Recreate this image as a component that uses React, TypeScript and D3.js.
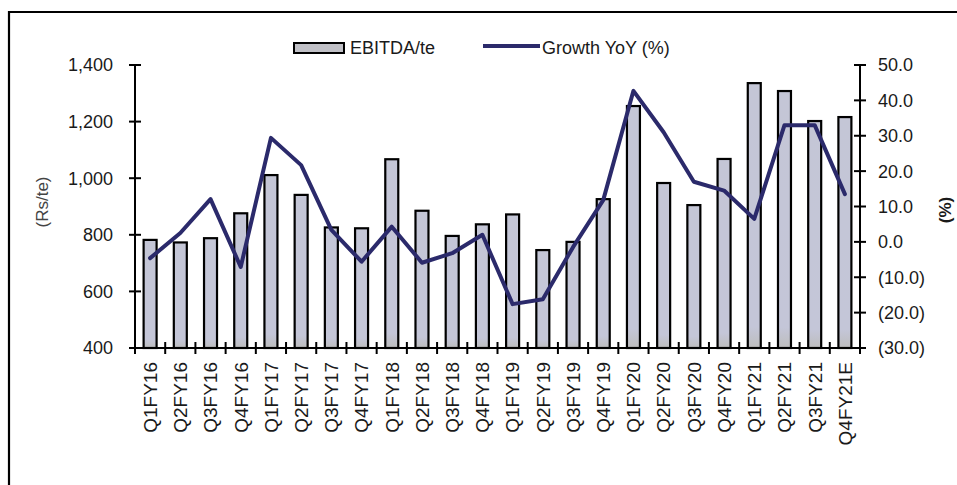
import React from "react";
import * as d3 from "d3";

const categories = [
  "Q1FY16", "Q2FY16", "Q3FY16", "Q4FY16",
  "Q1FY17", "Q2FY17", "Q3FY17", "Q4FY17",
  "Q1FY18", "Q2FY18", "Q3FY18", "Q4FY18",
  "Q1FY19", "Q2FY19", "Q3FY19", "Q4FY19",
  "Q1FY20", "Q2FY20", "Q3FY20", "Q4FY20",
  "Q1FY21", "Q2FY21", "Q3FY21", "Q4FY21E",
];

const ebitdaPerTonne = [
  782, 773, 788, 876,
  1011, 941, 826, 823,
  1067, 885, 796, 837,
  872, 746, 775, 926,
  1255, 983, 905, 1068,
  1336, 1308, 1202, 1216,
];

const growthYoY = [
  -4.6, 2.5, 12.1, -7.1,
  29.4, 21.7, 3.4, -5.6,
  4.3, -5.9, -3.2, 2.0,
  -17.6, -16.2, -1.5, 11.8,
  42.7, 31.0, 17.0, 14.5,
  6.5, 33.0, 33.0, 13.5,
];

const leftTicks = [400, 600, 800, 1000, 1200, 1400];
const rightTicks = [-30, -20, -10, 0, 10, 20, 30, 40, 50];

const W = 957;
const H = 485;
const plotLeft = 135;
const plotRight = 860;
const plotTop = 65;
const plotBottom = 348;
const FONT = "Liberation Sans, Arial, sans-serif";
const TEXT = "#1a1a1a";
const LINE = "#2b2a6b";

const fmtLeft = d3.format(",");
const fmtRight = (v: number) => (v < 0 ? `(${Math.abs(v).toFixed(1)})` : v.toFixed(1));

export default function App() {
  const x = d3.scaleBand<string>().domain(categories).range([plotLeft, plotRight]).padding(0);
  const yL = d3.scaleLinear().domain([400, 1400]).range([plotBottom, plotTop]);
  const yR = d3.scaleLinear().domain([-30, 50]).range([plotBottom, plotTop]);
  const step = x.step();
  const barW = step * 0.43;

  const line = d3
    .line<number>()
    .x((_, i) => (x(categories[i]) as number) + step / 2)
    .y((d) => yR(d));

  return (
    <svg
      width={W}
      height={H}
      style={{ position: "absolute", left: 0, top: 0, background: "#fff" }}
      fontFamily={FONT}
    >
      <defs>
        <linearGradient id="barFill" x1="0" y1="0" x2="0" y2="1">
          <stop offset="0" stopColor="#c4c6d6" />
          <stop offset="0.92" stopColor="#c4c6d8" />
          <stop offset="1" stopColor="#bdbdbd" />
        </linearGradient>
      </defs>
      {/* frame */}
      <path d={`M9,${H} L9,12 L${W},12`} fill="none" stroke="#000" strokeWidth={2.2} />

      {/* bars */}
      {ebitdaPerTonne.map((v, i) => {
        const cx = (x(categories[i]) as number) + step / 2;
        return (
          <rect
            key={categories[i]}
            x={cx - barW / 2}
            y={yL(v)}
            width={barW}
            height={plotBottom - yL(v)}
            fill="url(#barFill)"
            stroke="#000"
            strokeWidth={2.2}
          />
        );
      })}

      {/* left axis */}
      <line x1={plotLeft} x2={plotLeft} y1={plotTop} y2={plotBottom} stroke="#000" strokeWidth={2} />
      {leftTicks.map((t) => (
        <g key={t}>
          <line x1={plotLeft - 6} x2={plotLeft + 6} y1={yL(t)} y2={yL(t)} stroke="#000" strokeWidth={2} />
          <text x={113} y={yL(t)} dy="0.36em" textAnchor="end" fontSize={18} fill={TEXT}>
            {fmtLeft(t)}
          </text>
        </g>
      ))}

      {/* right axis */}
      <line x1={plotRight} x2={plotRight} y1={plotTop} y2={plotBottom} stroke="#000" strokeWidth={2} />
      {rightTicks.map((t) => (
        <g key={t}>
          <line x1={plotRight - 6} x2={plotRight + 6} y1={yR(t)} y2={yR(t)} stroke="#000" strokeWidth={2} />
          <text x={878} y={yR(t)} dy="0.36em" textAnchor="start" fontSize={18} fill={TEXT}>
            {fmtRight(t)}
          </text>
        </g>
      ))}

      {/* bottom axis */}
      <line x1={plotLeft} x2={plotRight} y1={plotBottom} y2={plotBottom} stroke="#000" strokeWidth={2} />
      {categories.map((c, i) => {
        const bx = x(c) as number;
        const cx = bx + step / 2;
        return (
          <g key={c}>
            <line x1={bx + step} x2={bx + step} y1={plotBottom - 6} y2={plotBottom + 6} stroke="#000" strokeWidth={2} />
            {i === 0 && (
              <line x1={bx} x2={bx} y1={plotBottom - 6} y2={plotBottom + 6} stroke="#000" strokeWidth={2} />
            )}
            <text
              transform={`translate(${cx},362) rotate(-90)`}
              dy="0.36em"
              textAnchor="end"
              fontSize={19}
              fill={TEXT}
            >
              {c}
            </text>
          </g>
        );
      })}

      {/* growth line */}
      <path
        d={line(growthYoY) || ""}
        fill="none"
        stroke={LINE}
        strokeWidth={4}
        strokeLinejoin="round"
        strokeLinecap="round"
      />

      {/* axis titles */}
      <text transform="translate(42,202) rotate(-90)" dy="0.36em" textAnchor="middle" fontSize={17} fill="#444">
        (Rs/te)
      </text>
      <text transform="translate(945,210) rotate(-90)" dy="0.36em" textAnchor="middle" fontSize={17} fontWeight="bold" fill={TEXT}>
        (%)
      </text>

      {/* legend */}
      <rect x={294} y={43} width={50} height={10} fill="#c0c0c6" stroke="#000" strokeWidth={2} />
      <text x={350} y={48} dy="0.36em" fontSize={18} fill={TEXT}>
        EBITDA/te
      </text>
      <line x1={483} x2={540} y1={46} y2={46} stroke={LINE} strokeWidth={4} />
      <text x={542} y={48} dy="0.36em" fontSize={18} fill={TEXT}>
        Growth YoY (%)
      </text>
    </svg>
  );
}
